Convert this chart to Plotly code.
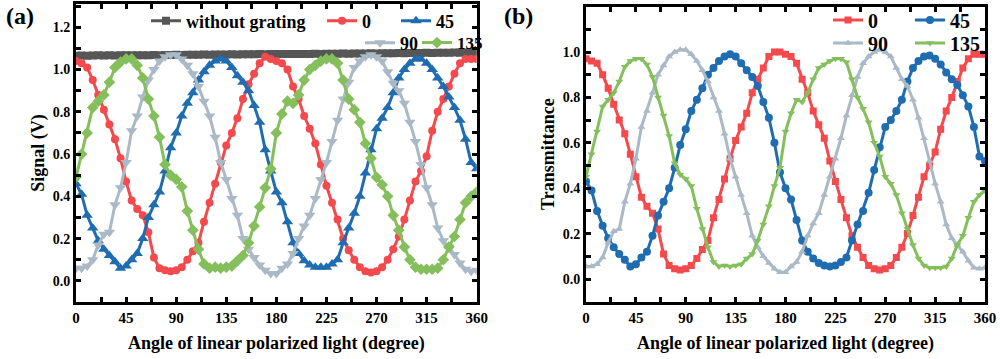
import plotly.graph_objects as go

angles = list(range(0, 361, 5))

# ---------------- Panel (a): Signal (V) ----------------
a_without = [1.065, 1.066, 1.065, 1.066, 1.067, 1.066, 1.067, 1.066, 1.067, 1.068, 1.067, 1.068, 1.068,
             1.068, 1.069, 1.068, 1.069, 1.069, 1.070, 1.069, 1.070, 1.070, 1.070, 1.071, 1.070, 1.071,
             1.071, 1.071, 1.072, 1.071, 1.072, 1.072, 1.072, 1.073, 1.072, 1.073, 1.073, 1.073, 1.074,
             1.073, 1.074, 1.074, 1.074, 1.075, 1.074, 1.075, 1.075, 1.075, 1.076, 1.075, 1.076, 1.076,
             1.076, 1.077, 1.076, 1.077, 1.077, 1.077, 1.078, 1.077, 1.078, 1.078, 1.078, 1.079, 1.078,
             1.079, 1.079, 1.079, 1.080, 1.079, 1.080, 1.080, 1.080]
a_0 = [1.04, 1.03, 1.01, 0.95, 0.88, 0.81, 0.74, 0.67, 0.58, 0.47, 0.38, 0.34, 0.31, 0.23, 0.11, 0.06,
       0.05, 0.045, 0.05, 0.065, 0.10, 0.14, 0.18, 0.28, 0.37, 0.46, 0.56, 0.64, 0.70, 0.77, 0.86, 0.93,
       0.98, 1.03, 1.06, 1.05, 1.04, 1.03, 1.00, 0.92, 0.86, 0.78, 0.72, 0.65, 0.55, 0.45, 0.37, 0.29,
       0.20, 0.145, 0.10, 0.065, 0.045, 0.04, 0.045, 0.065, 0.10, 0.15, 0.21, 0.29, 0.38, 0.47, 0.52,
       0.59, 0.71, 0.80, 0.86, 0.92, 0.98, 1.03, 1.05, 1.05, 1.05]
a_45 = [0.46, 0.41, 0.31, 0.25, 0.19, 0.15, 0.12, 0.09, 0.06, 0.07, 0.10, 0.13, 0.20, 0.30, 0.36, 0.42,
        0.52, 0.63, 0.70, 0.78, 0.84, 0.89, 0.95, 0.99, 1.02, 1.04, 1.05, 1.04, 1.01, 0.97, 0.94, 0.90,
        0.83, 0.75, 0.62, 0.52, 0.42, 0.37, 0.28, 0.18, 0.13, 0.095, 0.075, 0.065, 0.065, 0.065, 0.08,
        0.10, 0.18, 0.25, 0.32, 0.40, 0.51, 0.62, 0.72, 0.77, 0.82, 0.89, 0.96, 1.00, 1.03, 1.05, 1.05,
        1.03, 1.00, 0.96, 0.92, 0.87, 0.82, 0.76, 0.67, 0.56, 0.53]
a_90 = [0.06, 0.06, 0.07, 0.10, 0.17, 0.22, 0.23, 0.36, 0.44, 0.56, 0.71, 0.78, 0.87, 0.95, 1.00, 1.04,
        1.06, 1.07, 1.07, 1.05, 1.02, 0.98, 0.92, 0.85, 0.78, 0.68, 0.56, 0.48, 0.39, 0.31, 0.20, 0.15,
        0.11, 0.075, 0.05, 0.035, 0.035, 0.06, 0.08, 0.13, 0.20, 0.26, 0.31, 0.39, 0.48, 0.56, 0.66,
        0.76, 0.86, 0.94, 1.01, 1.04, 1.06, 1.07, 1.06, 1.04, 0.99, 0.935, 0.90, 0.84, 0.75, 0.66, 0.55,
        0.44, 0.36, 0.25, 0.19, 0.16, 0.125, 0.085, 0.055, 0.045, 0.05]
a_135 = [0.49, 0.60, 0.70, 0.82, 0.85, 0.88, 0.94, 1.01, 1.035, 1.05, 1.05, 1.02, 0.96, 0.86, 0.78, 0.68,
         0.55, 0.50, 0.48, 0.445, 0.33, 0.24, 0.15, 0.08, 0.06, 0.065, 0.06, 0.065, 0.07, 0.095, 0.12,
         0.18, 0.26, 0.35, 0.44, 0.53, 0.70, 0.79, 0.85, 0.84, 0.88, 0.95, 1.00, 1.02, 1.04, 1.05, 1.05,
         1.03, 0.95, 0.86, 0.81, 0.75, 0.65, 0.58, 0.49, 0.455, 0.40, 0.31, 0.24, 0.16, 0.10, 0.065,
         0.055, 0.055, 0.055, 0.06, 0.10, 0.16, 0.21, 0.29, 0.37, 0.40, 0.42]

# ---------------- Panel (b): Transmittance ----------------
b_0 = [0.97, 0.96, 0.95, 0.90, 0.84, 0.77, 0.70, 0.64, 0.55, 0.45, 0.36, 0.32, 0.29, 0.22, 0.11, 0.06,
       0.045, 0.04, 0.045, 0.06, 0.09, 0.13, 0.17, 0.27, 0.35, 0.44, 0.53, 0.61, 0.67, 0.73, 0.82, 0.88,
       0.93, 0.98, 1.00, 1.00, 0.99, 0.98, 0.95, 0.88, 0.82, 0.74, 0.68, 0.62, 0.52, 0.43, 0.35, 0.27,
       0.19, 0.14, 0.095, 0.06, 0.045, 0.04, 0.045, 0.06, 0.095, 0.14, 0.20, 0.28, 0.36, 0.45, 0.50,
       0.56, 0.66, 0.74, 0.80, 0.87, 0.93, 0.97, 0.99, 0.99, 0.99]
b_45 = [0.43, 0.39, 0.30, 0.235, 0.18, 0.14, 0.11, 0.085, 0.055, 0.065, 0.095, 0.12, 0.19, 0.28, 0.34,
        0.40, 0.49, 0.59, 0.66, 0.74, 0.79, 0.84, 0.90, 0.93, 0.96, 0.98, 0.99, 0.98, 0.95, 0.92, 0.89,
        0.85, 0.78, 0.71, 0.60, 0.47, 0.40, 0.35, 0.26, 0.17, 0.12, 0.09, 0.07, 0.06, 0.055, 0.06, 0.075,
        0.095, 0.17, 0.24, 0.30, 0.38, 0.48, 0.58, 0.67, 0.70, 0.74, 0.79, 0.87, 0.93, 0.96, 0.98, 0.985,
        0.97, 0.945, 0.91, 0.88, 0.855, 0.81, 0.76, 0.67, 0.54, 0.52]
b_90 = [0.055, 0.055, 0.065, 0.095, 0.16, 0.21, 0.22, 0.34, 0.42, 0.53, 0.67, 0.74, 0.82, 0.90, 0.94,
        0.98, 1.00, 1.01, 1.01, 0.99, 0.96, 0.92, 0.87, 0.80, 0.74, 0.64, 0.53, 0.45, 0.37, 0.29, 0.19,
        0.14, 0.10, 0.07, 0.045, 0.03, 0.03, 0.055, 0.075, 0.12, 0.19, 0.245, 0.29, 0.37, 0.45, 0.53,
        0.62, 0.72, 0.81, 0.89, 0.95, 0.98, 1.00, 1.01, 1.00, 0.98, 0.93, 0.88, 0.85, 0.79, 0.71, 0.62,
        0.52, 0.42, 0.34, 0.24, 0.18, 0.15, 0.12, 0.08, 0.05, 0.045, 0.05]
b_135 = [0.45, 0.55, 0.65, 0.76, 0.79, 0.82, 0.87, 0.935, 0.96, 0.97, 0.97, 0.945, 0.89, 0.80, 0.72,
         0.63, 0.51, 0.46, 0.44, 0.41, 0.31, 0.22, 0.14, 0.075, 0.055, 0.06, 0.055, 0.06, 0.065, 0.09,
         0.11, 0.17, 0.24, 0.32, 0.41, 0.49, 0.65, 0.73, 0.79, 0.78, 0.82, 0.88, 0.93, 0.945, 0.96, 0.97,
         0.97, 0.955, 0.88, 0.80, 0.75, 0.69, 0.60, 0.54, 0.45, 0.42, 0.37, 0.29, 0.22, 0.15, 0.09, 0.06,
         0.05, 0.05, 0.05, 0.055, 0.09, 0.15, 0.19, 0.27, 0.34, 0.37, 0.39]

# tick positions (major + minor) and their labels
x_tickvals = [0, 22.5, 45, 67.5, 90, 112.5, 135, 157.5, 180, 202.5, 225, 247.5, 270, 292.5, 315, 337.5, 360]
x_ticktext = ["0", "", "45", "", "90", "", "135", "", "180", "", "225", "", "270", "", "315", "", "360"]
y_tickvals = [0.0, 0.1, 0.2, 0.3, 0.4, 0.5, 0.6, 0.7, 0.8, 0.9, 1.0, 1.1, 1.2, 1.3]
y_ticktext = ["0.0", "", "0.2", "", "0.4", "", "0.6", "", "0.8", "", "1.0", "", "1.2", ""]

x_title = "Angle of linear polarized light (degree)"
ya_title = "Signal (V)"
yb_title = "Transmittance"

RED = "#f4494d"
BLUE = "#1f6db0"
GREY = "#a9b9c5"
GREEN = "#84bf5c"
DARK = "#565656"
FONT = "Liberation Serif"


def bold(size):
    return dict(family=FONT, size=size, color="black", weight="bold")


fig = go.Figure()

series_a = [
    ("without grating", a_without, DARK, "square", 8, "legend"),
    ("0", a_0, RED, "circle", 8, "legend2"),
    ("45", a_45, BLUE, "triangle-up", 10, "legend3"),
    ("90", a_90, GREY, "triangle-down", 10, "legend4"),
    ("135", a_135, GREEN, "diamond", 9, "legend5"),
]
for name, vals, col, sym, msz, lg in series_a:
    fig.add_trace(go.Scatter(
        x=angles, y=vals, name=name, mode="lines+markers",
        line=dict(color=col, width=3),
        marker=dict(symbol=sym, size=msz, color=col, line=dict(width=0)),
        xaxis="x", yaxis="y", legend=lg))

series_b = [
    ("0", b_0, RED, "square", 7, "legend6"),
    ("45", b_45, BLUE, "circle", 8, "legend7"),
    ("90", b_90, GREY, "triangle-up", 7, "legend8"),
    ("135", b_135, GREEN, "triangle-down", 7, "legend9"),
]
for name, vals, col, sym, msz, lg in series_b:
    fig.add_trace(go.Scatter(
        x=angles, y=vals, name=name, mode="lines+markers",
        line=dict(color=col, width=3),
        marker=dict(symbol=sym, size=msz, color=col, line=dict(width=0)),
        xaxis="x2", yaxis="y2", legend=lg))


def xaxis(domain, anchor):
    return dict(
        domain=domain, anchor=anchor, range=[0, 360], automargin=False,
        tickmode="array", tickvals=x_tickvals, ticktext=x_ticktext,
        ticks="inside", ticklen=5, tickwidth=2.5, tickcolor="black",
        mirror="ticks", showline=True, linewidth=3, linecolor="black",
        showgrid=False, zeroline=False, tickfont=bold(15),
        title=dict(text=x_title, font=bold(18), standoff=12))


def yaxis(domain, anchor, rng, title, standoff):
    return dict(
        domain=domain, anchor=anchor, range=rng, automargin=False,
        tickmode="array", tickvals=y_tickvals, ticktext=y_ticktext,
        ticks="inside", ticklen=5, tickwidth=2.5, tickcolor="black",
        mirror="ticks", showline=True, linewidth=3, linecolor="black",
        showgrid=False, zeroline=False, tickfont=bold(14),
        title=dict(text=title, font=bold(18), standoff=standoff))


H = 359.0
W = 1000.0


def leg(xpx, ypx, size):
    return dict(x=xpx / W, y=1 - ypx / H, xanchor="left", yanchor="middle",
                bgcolor="rgba(0,0,0,0)", borderwidth=0, font=bold(size),
                orientation="v")


fig.update_layout(
    template="none",
    width=1000, height=359, autosize=False,
    margin=dict(l=0, r=0, t=0, b=0, autoexpand=False),
    paper_bgcolor="white", plot_bgcolor="white",
    showlegend=True,
    xaxis=xaxis([0.076, 0.4767], "y"),
    yaxis=yaxis([1 - 302 / H, 1 - 4 / H], "x", [-0.1, 1.31], ya_title, 4),
    xaxis2=xaxis([0.586, 0.985], "y2"),
    yaxis2=yaxis([1 - 301.7 / H, 1 - 6.6 / H], "x2", [-0.1, 1.2], yb_title, 4),
    legend=leg(146, 21, 18),
    legend2=leg(322, 21, 18),
    legend3=leg(396, 21, 18),
    legend4=leg(360, 43, 18),
    legend5=leg(417, 43, 17),
    legend6=leg(828, 20, 20),
    legend7=leg(910, 20, 20),
    legend8=leg(828, 43, 20),
    legend9=leg(910, 43, 20),
    annotations=[
        dict(text="(a)", x=4 / W, y=1 - 16 / H, xref="paper", yref="paper",
             xanchor="left", yanchor="middle", showarrow=False, font=bold(24)),
        dict(text="(b)", x=502 / W, y=1 - 16 / H, xref="paper", yref="paper",
             xanchor="left", yanchor="middle", showarrow=False, font=bold(24)),
    ],
)

fig.write_html("out.html", config={"displayModeBar": False},
               post_script="document.body.style.margin='0';document.body.style.padding='0';")
